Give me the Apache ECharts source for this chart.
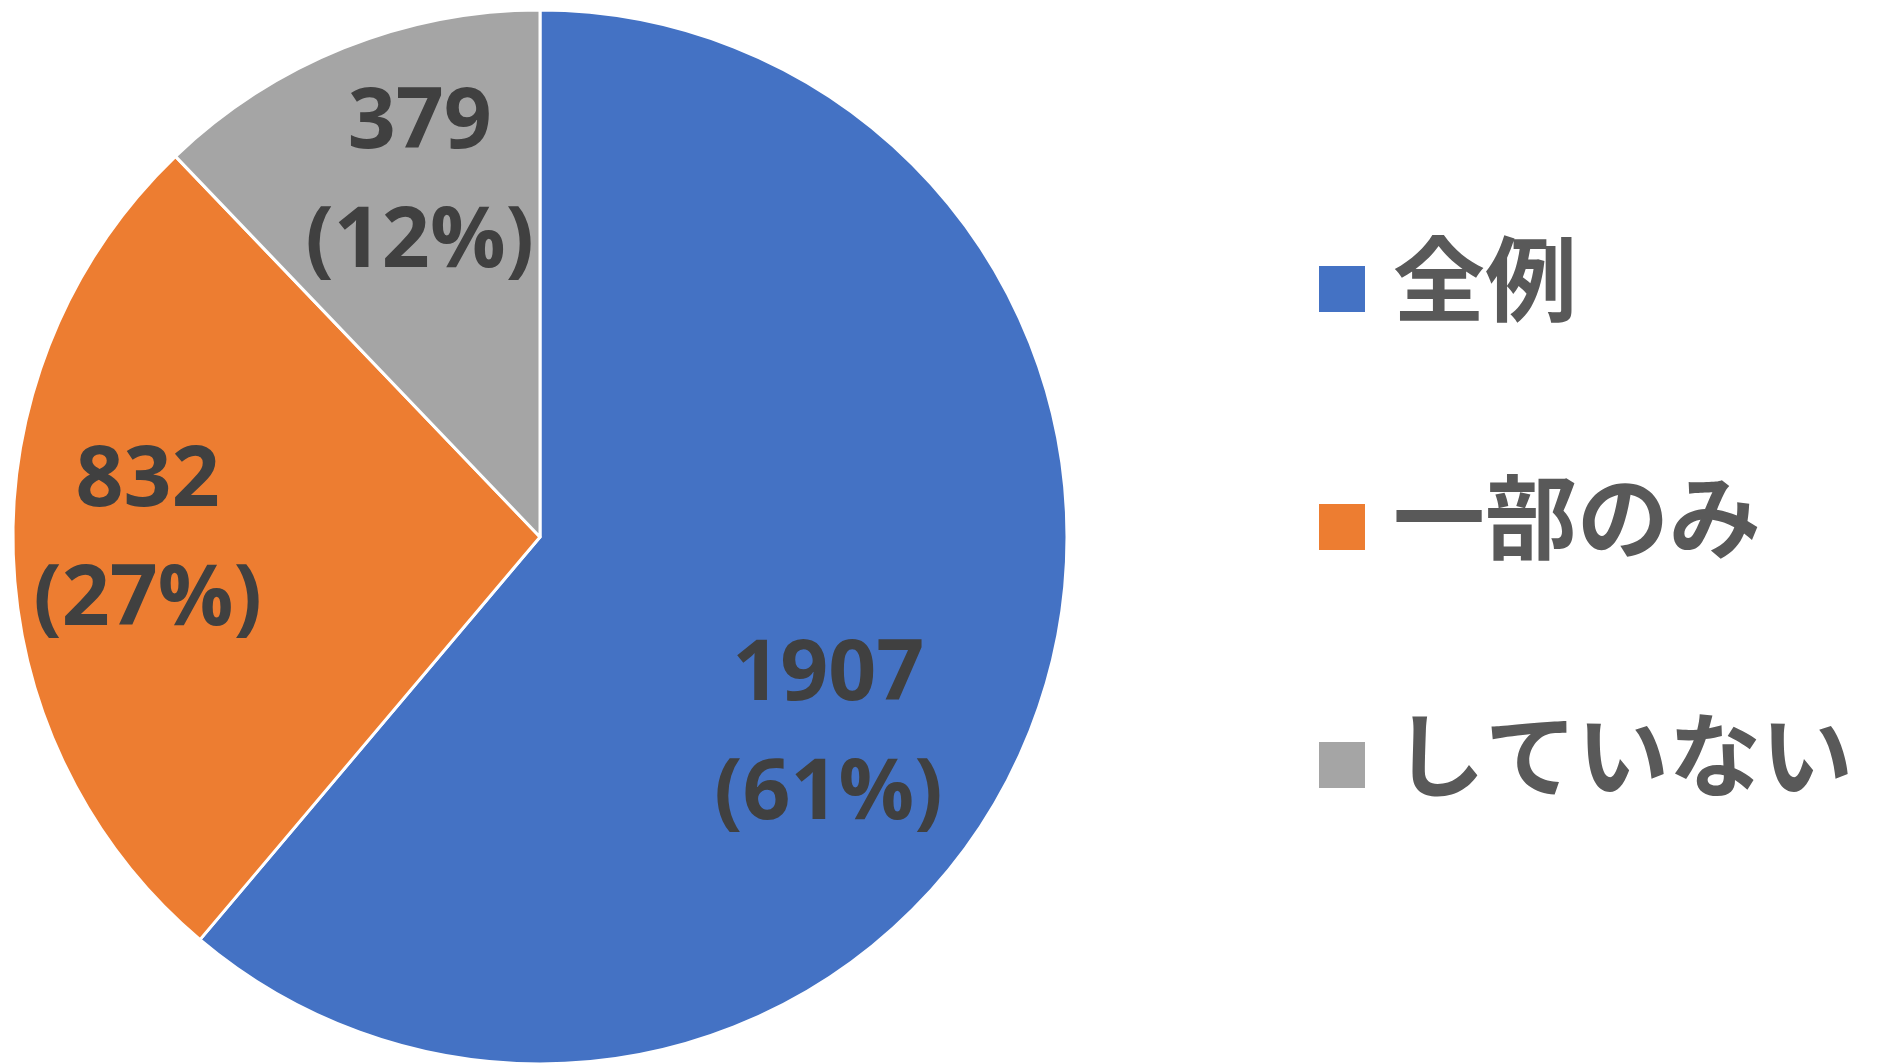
<!DOCTYPE html>
<html>
<head>
<meta charset="utf-8">
<script src="https://cdn.jsdelivr.net/npm/echarts@6/dist/echarts.min.js"></script>
<style>
  html, body { margin: 0; padding: 0; background: #fff; }
  #chart { width: 1877px; height: 1064px; }
</style>
</head>
<body>
<div id="chart"></div>
<script>
// データ
const categories = ['全例', '一部のみ', 'していない'];
const counts = [1907, 832, 379];
const colors = ['#4472C4', '#ED7D31', '#A5A5A5'];

// ラベルの微調整（Excelの配置に合わせる）
const labelShift = [[38, 107], [-126, -4], [-21, -106]];

const chart = echarts.init(document.getElementById('chart'));

const option = {
    backgroundColor: '#fff',
    animation: false,
    color: colors,
    legend: {
        orient: 'vertical',
        left: 1312,
        top: 228,
        icon: 'rect',
        itemWidth: 48,
        itemHeight: 48,
        itemGap: 126,
        data: categories,
        formatter: '{t|{name}}',
        textStyle: {
            rich: {
                t: {
                    fontFamily: '"Noto Sans CJK JP", sans-serif',
                    fontSize: 92,
                    fontWeight: 'bold',
                    lineHeight: 100,
                    color: '#595959',
                    padding: [0, 0, 20, 22]
                }
            }
        }
    },
    series: [
        {
            type: 'pie',
            center: [540, 537],
            radius: 527,
            startAngle: 90,
            clockwise: true,
            percentPrecision: 0,
            data: categories.map(function (name, i) {
                return { name: name, value: counts[i] };
            }),
            itemStyle: {
                borderColor: '#fff',
                borderWidth: 3
            },
            label: {
                position: 'inside',
                formatter: '{c}\n({d}%)',
                fontFamily: '"Open Sans", "Noto Sans", sans-serif',
                fontWeight: 'bold',
                fontSize: 84,
                lineHeight: 119,
                color: '#404040'
            },
            labelLine: { show: false },
            labelLayout: function (params) {
                const s = labelShift[params.dataIndex];
                return { dx: s[0], dy: s[1] };
            },
            emphasis: { disabled: true }
        }
    ]
};

chart.setOption(option);
</script>
</body>
</html>
